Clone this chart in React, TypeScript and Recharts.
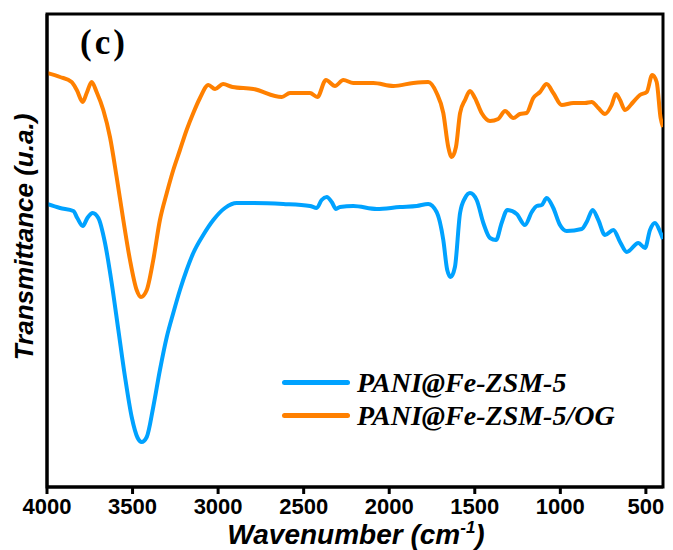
import { Legend, Line, LineChart, ReferenceArea, XAxis, YAxis } from 'recharts';

// FTIR spectra. Transmittance is in arbitrary units.
const xTicks = [4000, 3500, 3000, 2500, 2000, 1500, 1000, 500];

const pWave = [
  4000, 3924, 3846, 3823, 3791, 3764, 3733, 3700, 3661, 3622, 3583, 3544, 3505, 3470, 3447, 3417,
  3379, 3340, 3300, 3262, 3223, 3184, 3145, 3087, 3028, 2960, 2891, 2794, 2619, 2463, 2424, 2395,
  2365, 2336, 2311, 2288, 2210, 2073, 1937, 1839, 1772, 1723, 1684, 1661, 1641, 1616, 1586, 1557,
  1528, 1489, 1450, 1411, 1376, 1343, 1310, 1255, 1207, 1167, 1138, 1109, 1080, 1041, 1002, 963,
  875, 846, 811, 778, 739, 690, 651, 612, 544, 505, 476, 447, 414, 400,
];
const pTrans = [
  283, 279, 276, 269, 261, 269, 274, 269, 244, 204, 157, 110, 70, 49, 45, 50,
  80, 117, 150, 174, 197, 217, 234, 252, 267, 279, 284, 284, 283, 281, 279, 287,
  290, 285, 278, 280, 281, 278, 280, 281, 283, 275, 247, 217, 210, 220, 274, 289,
  294, 287, 264, 249, 247, 264, 277, 273, 262, 275, 281, 282, 289, 279, 262, 256,
  258, 265, 277, 267, 252, 257, 245, 235, 244, 239, 257, 264, 254, 248,
];

const ogWave = [
  4000, 3924, 3856, 3826, 3791, 3768, 3739, 3710, 3671, 3632, 3593, 3554, 3515, 3476, 3451, 3417,
  3379, 3340, 3300, 3262, 3223, 3184, 3145, 3106, 3057, 3018, 2971, 2916, 2794, 2628, 2580, 2463,
  2420, 2370, 2317, 2268, 2210, 2093, 1976, 1859, 1772, 1723, 1684, 1655, 1635, 1610, 1586, 1557,
  1528, 1499, 1460, 1411, 1363, 1323, 1275, 1236, 1197, 1158, 1119, 1080, 1041, 992, 924, 856,
  817, 778, 739, 700, 675, 651, 622, 574, 535, 495, 463, 437, 414, 400,
];
const ogTrans = [
  414, 410, 405, 397, 385, 394, 405, 395, 377, 350, 310, 267, 227, 197, 190, 197,
  227, 267, 294, 317, 337, 357, 374, 389, 402, 398, 403, 400, 398, 390, 394, 394,
  390, 407, 401, 407, 404, 404, 401, 404, 405, 394, 374, 340, 330, 340, 374, 387,
  396, 389, 374, 366, 368, 376, 369, 373, 374, 389, 395, 403, 394, 382, 384, 384,
  385, 379, 373, 382, 393, 387, 377, 385, 392, 395, 412, 405, 369, 360,
];

const seriesNames = ['PANI@Fe-ZSM-5', 'PANI@Fe-ZSM-5/OG'];
const seriesColors = ['#00A2FF', '#FF8000'];

const pData = pWave.map((w, i) => ({ w, t: pTrans[i] }));
const ogData = ogWave.map((w, i) => ({ w, t: ogTrans[i] }));

const sans = '"Liberation Sans", Arial, sans-serif';
const serif = '"Liberation Serif", "Times New Roman", serif';

function XTitle() {
  return (
    <text x={356} y={544} textAnchor="middle" fontFamily={sans} fontWeight="bold" fontStyle="italic" fontSize={28} fill="#000">
      Wavenumber (cm
      <tspan dy={-11} fontSize={17}>-1</tspan>
      <tspan dy={11}>)</tspan>
    </text>
  );
}

function YTitle() {
  return (
    <text
      x={33}
      y={237}
      transform="rotate(-90 33 237)"
      textAnchor="middle"
      fontFamily={sans}
      fontWeight="bold"
      fontStyle="italic"
      fontSize={26}
      fill="#000"
    >
      Transmittance (u.a.)
    </text>
  );
}

function LegendBox() {
  return (
    <div>
      {seriesNames.map((name, i) => (
        <div key={name} style={{ display: 'flex', alignItems: 'center', height: 33 }}>
          <div style={{ width: 68, height: 5, borderRadius: 3, background: seriesColors[i], marginRight: 7 }} />
          <span style={{ fontFamily: serif, fontWeight: 'bold', fontStyle: 'italic', fontSize: 28, lineHeight: '33px', color: '#000' }}>
            {name}
          </span>
        </div>
      ))}
    </div>
  );
}

export default function App() {
  return (
    <div style={{ position: 'absolute', left: 0, top: 0, width: 673, height: 550, background: '#fff' }}>
      <LineChart width={673} height={550} data={pData} margin={{ top: 14, right: 10, bottom: 0, left: 0 }}>
        <XAxis
          dataKey="w"
          type="number"
          domain={[400, 4000]}
          reversed
          ticks={xTicks}
          allowDataOverflow
          height={63}
          stroke="#000"
          axisLine={{ stroke: '#000', strokeWidth: 3 }}
          tickLine={{ stroke: '#000', strokeWidth: 3 }}
          tickSize={7}
          tickMargin={4}
          tick={{ fill: '#000', fontFamily: sans, fontWeight: 'bold', fontSize: 22 }}
          label={XTitle}
        />
        <YAxis
          domain={[0, 473]}
          width={47}
          tick={false}
          tickLine={false}
          axisLine={{ stroke: '#000', strokeWidth: 3 }}
          label={YTitle}
        />
        <ReferenceArea x1={4000} x2={400} y1={0} y2={473} fill="none" stroke="#000" strokeWidth={3} ifOverflow="visible" />
        <Legend
          layout="vertical"
          align="center"
          verticalAlign="middle"
          content={LegendBox}
          wrapperStyle={{ left: 282, top: 366, width: 360 }}
        />
        <Line
          data={pData}
          dataKey="t"
          name={seriesNames[0]}
          type="monotone"
          stroke={seriesColors[0]}
          strokeWidth={4}
          dot={false}
          isAnimationActive={false}
        />
        <Line
          data={ogData}
          dataKey="t"
          name={seriesNames[1]}
          type="monotone"
          stroke={seriesColors[1]}
          strokeWidth={4}
          dot={false}
          isAnimationActive={false}
        />
      </LineChart>
      <div
        style={{
          position: 'absolute',
          left: 80,
          top: 23,
          fontFamily: serif,
          fontWeight: 'bold',
          fontSize: 35,
          letterSpacing: 3,
          color: '#000',
        }}
      >
        (c)
      </div>
    </div>
  );
}
